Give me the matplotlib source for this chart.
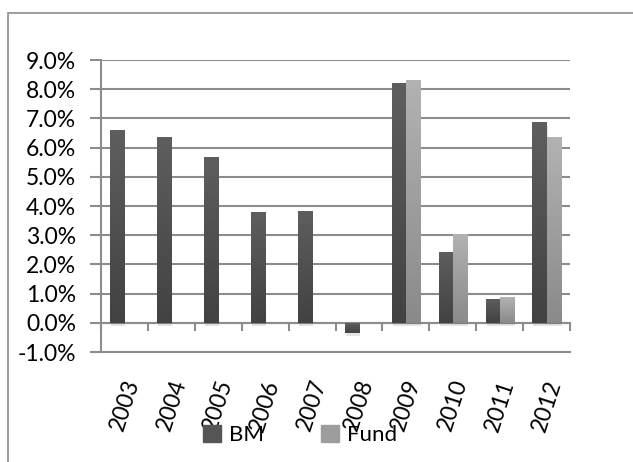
import numpy as np
import matplotlib.pyplot as plt
from matplotlib.patches import Rectangle
from matplotlib.colors import LinearSegmentedColormap
from matplotlib.ticker import PercentFormatter

plt.rcParams['font.family'] = ['Lato', 'DejaVu Sans']
plt.rcParams['axes.unicode_minus'] = False

years = ['2003', '2004', '2005', '2006', '2007', '2008', '2009', '2010', '2011', '2012']
bm = [6.6, 6.36, 5.68, 3.8, 3.83, -0.34, 8.21, 2.44, 0.83, 6.87]
fund = [np.nan, np.nan, np.nan, np.nan, np.nan, np.nan, 8.3, 3.05, 0.87, 6.36]

grid_col = '#8c8c8c'
bm_top, bm_bot = '#5e5e5e', '#424242'
fd_top, fd_bot = '#b2b2b2', '#8a8a8a'

fig = plt.figure(figsize=(6.33, 4.62), dpi=100)
ax = fig.add_axes([0.1596, 0.238, 0.7409, 0.632])

x = np.arange(len(years))
w = 0.3


def gradient_bars(xpos, vals, top, bot):
    bars = ax.bar(xpos, vals, width=w, color='none', edgecolor='none', zorder=3)
    grad = np.linspace(0, 1, 64).reshape(-1, 1)
    cmap = LinearSegmentedColormap.from_list('g', [bot, top])
    for b, v in zip(bars, vals):
        if np.isnan(v):
            continue
        x0, y0 = b.get_x(), b.get_y()
        x1, y1 = x0 + b.get_width(), y0 + b.get_height()
        lo, hi = min(y0, y1), max(y0, y1)
        # soft shadow under the bar
        ax.add_patch(Rectangle((x0 + 0.02, lo - 0.12), w, hi - lo, color='#000000',
                               alpha=0.10, lw=0, zorder=2))
        im = ax.imshow(grad, extent=(x0, x1, lo, hi), origin='lower', cmap=cmap,
                       aspect='auto', zorder=3)
        im.set_clip_path(b)
    return bars


gradient_bars(x - w / 2, bm, bm_top, bm_bot)
gradient_bars(x + w / 2, fund, fd_top, fd_bot)

ax.set_xlim(-0.5, len(years) - 0.5)
ax.set_ylim(-1, 9)
ax.set_yticks(np.arange(-1, 10, 1))
ax.yaxis.set_major_formatter(PercentFormatter(decimals=1))
ax.grid(axis='y', color=grid_col, lw=1.5, zorder=1)
ax.tick_params(axis='y', length=8, width=1.5, color=grid_col, labelsize=16.5, pad=10)

ax.set_xticks(x)
ax.set_xticklabels(years, rotation=72, fontsize=16.5)
ax.tick_params(axis='x', length=0, pad=18)

for s in ['top', 'right']:
    ax.spines[s].set_visible(False)
for s in ['left', 'bottom']:
    ax.spines[s].set_color(grid_col)
    ax.spines[s].set_linewidth(1.5)

# zero line with category boundary ticks
sec = ax.secondary_xaxis(0.1)
sec.set_xticks(np.arange(-0.5, len(years), 1))
sec.tick_params(length=6, width=1.5, color=grid_col, labelbottom=False, direction='out')
sec.spines['bottom'].set_color(grid_col)
sec.spines['bottom'].set_linewidth(1.5)

handles = [Rectangle((0, 0), 1, 1, color='#555555'), Rectangle((0, 0), 1, 1, color='#9d9d9d')]
fig.legend(handles, ['BM', 'Fund'], loc='center', bbox_to_anchor=(0.474, 0.058), ncol=2,
           frameon=False, fontsize=16, handlelength=0.8, handleheight=0.8,
           handletextpad=0.35, columnspacing=2.6)

# chart frame
fig.add_artist(Rectangle((8 / 633, -0.1), 1.1, 1 - 13 / 462 + 0.1, transform=fig.transFigure,
                         fill=False, edgecolor='#8c8c8c', lw=1.2))

fig.savefig('out.png', dpi=100)
